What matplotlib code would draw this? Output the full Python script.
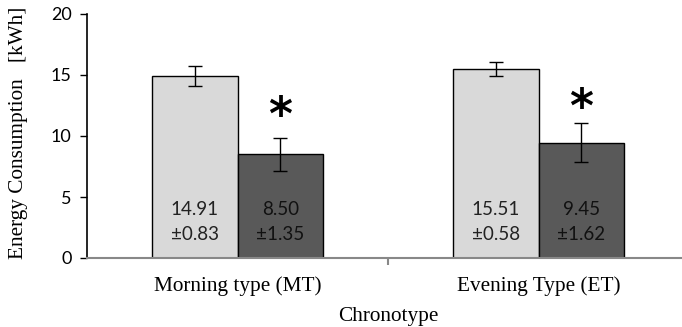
import matplotlib
matplotlib.use("Agg")
import matplotlib.pyplot as plt
import numpy as np

categories = ["Morning type (MT)", "Evening Type (ET)"]
series_a = [14.91, 15.51]
series_a_err = [0.83, 0.58]
series_b = [8.50, 9.45]
series_b_err = [1.35, 1.62]
star_y = [11.55, 12.2]
yticks = [0, 5, 10, 15, 20]

W, H = 682, 327
fig = plt.figure(figsize=(W / 100, H / 100), dpi=100)
x0, x1 = 87, 689
y0, y1 = 258, 14
ax = fig.add_axes([x0 / W, (H - y0) / H, (x1 - x0) / W, (y0 - y1) / H])

x = np.arange(len(categories))
bw = 0.284
light = "#d9d9d9"
dark = "#595959"
ax.bar(x - bw / 2, series_a, bw, color=light, edgecolor="black", linewidth=1.0, zorder=2)
ax.bar(x + bw / 2, series_b, bw, color=dark, edgecolor="black", linewidth=1.0, zorder=2)
ax.errorbar(x - bw / 2, series_a, yerr=series_a_err, fmt="none", ecolor="black",
            elinewidth=1.0, capsize=5, capthick=1.0, zorder=3)
ax.errorbar(x + bw / 2, series_b, yerr=series_b_err, fmt="none", ecolor="black",
            elinewidth=1.0, capsize=5, capthick=1.0, zorder=3)

lab_font = "Lato"
for xi, v, e in zip(x - bw / 2, series_a, series_a_err):
    ax.text(xi, 2.95, f"{v:.2f}\n±{e:.2f}", ha="center", va="center", fontsize=13.5,
            family=lab_font, color="#222222", linespacing=1.58, zorder=4)
for xi, v, e in zip(x + bw / 2, series_b, series_b_err):
    ax.text(xi, 2.95, f"{v:.2f}\n±{e:.2f}", ha="center", va="center", fontsize=13.5,
            family=lab_font, color="#111111", linespacing=1.58, zorder=4)
for xi, sy in zip(x + bw / 2, star_y):
    ax.text(xi, sy, "*", ha="center", va="center", fontsize=33, fontweight="bold",
            family="DejaVu Sans", color="black")

ax.set_xlim(-0.5, 1.5)
ax.set_ylim(0, 20)
ax.set_yticks(yticks)
ax.set_yticklabels([str(t) for t in yticks], family=lab_font, fontsize=13)
ax.set_xticks([0.5], minor=False)
ax.set_xticklabels([""])
ax.tick_params(axis="x", length=5, width=1.5, color="#888888", direction="out")
ax.tick_params(axis="y", length=5, width=1.0, color="black", direction="out", pad=6)
for xi, c in zip(x, categories):
    ax.text(xi, -2.70, c, ha="center", va="baseline", fontsize=15.3,
            family="Liberation Serif", transform=ax.transData)

for s in ["top", "right"]:
    ax.spines[s].set_visible(False)
ax.spines["left"].set_color("black")
ax.spines["left"].set_linewidth(1.2)
ax.spines["bottom"].set_color("#888888")
ax.spines["bottom"].set_linewidth(1.5)

fig.text(388 / W, 1 - 321 / H, "Chronotype", ha="center", va="baseline",
         fontsize=15.3, family="Liberation Serif")
fig.text(19 / W, 1 - 133 / H, "Energy Consumption   [kWh]", ha="center", va="center",
         rotation=90, fontsize=15.3, family="Liberation Serif")

fig.savefig("out.png", dpi=100)
